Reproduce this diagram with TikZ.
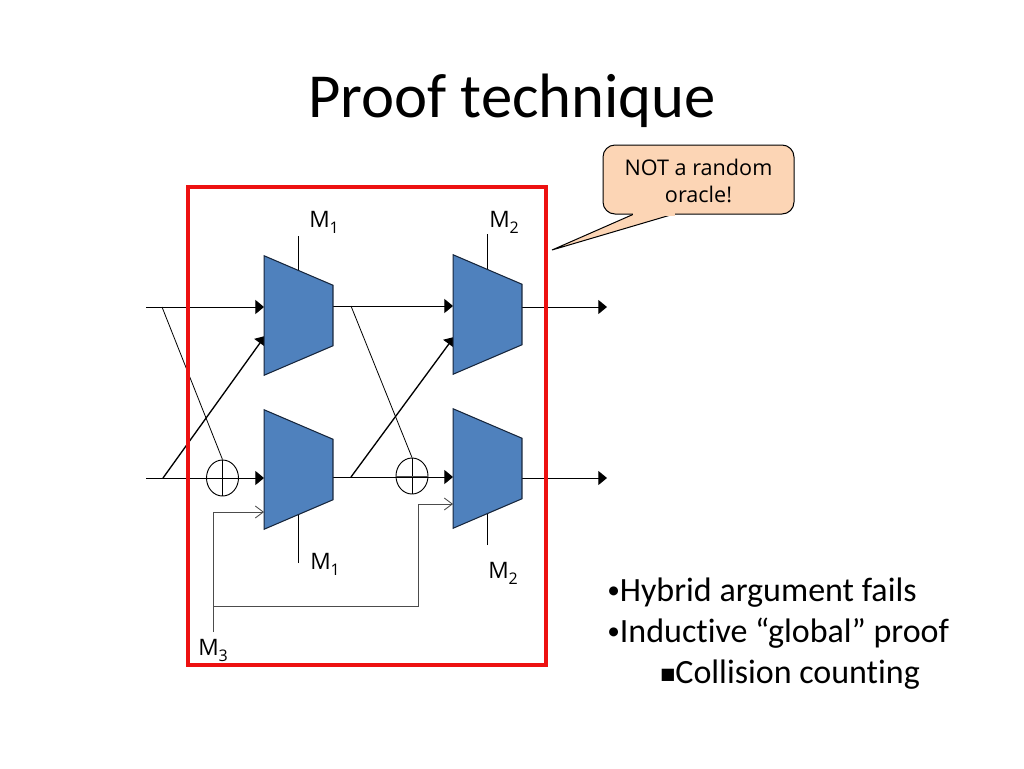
\documentclass[tikz,border=0pt]{standalone}
\usepackage{fontspec}
\setmainfont[Ligatures=NoCommon]{Carlito}
\newfontfamily\labelfont{Open Sans}
\newfontfamily\symbfont{DejaVu Sans}
\usetikzlibrary{calc,positioning,shapes.geometric,arrows.meta}

\definecolor{muxblue}{HTML}{4F81BD}
\definecolor{muxedge}{HTML}{17263C}
\definecolor{framered}{HTML}{ED1111}
\definecolor{calloutfill}{HTML}{FCD5B5}

\tikzset{
    muxbox/.style={rectangle, inner sep=0pt, minimum width=51.3pt, minimum height=89.25pt},
    muxfill/.style={draw=muxedge, fill=muxblue, line width=0.8pt, line join=miter},
    xorgate/.style={ellipse, draw, line width=0.7pt, inner sep=0pt, minimum width=24pt, minimum height=27pt},
    wire/.style={line width=0.75pt},
    thinwire/.style={line width=0.6pt},
    feed/.style={line width=0.65pt, draw=black!70},
    solidtip/.style={-{Triangle[length=6.5pt,width=10.5pt]}},
    opentip/.style={-{Straight Barb[length=6pt,width=9pt]}},
    muxlabel/.style={font=\labelfont\fontsize{17}{19}\selectfont, inner sep=0pt},
    itemtext/.style={anchor=base west, inner sep=0pt, font=\fontsize{25.5}{28}\selectfont}
}

% Draws the sloped outline inside a named box
\newcommand{\muxshape}[1]{
    \draw[muxfill] (#1.north west) -- ($(#1.north east)+(0,29.5)$) -- ($(#1.south east)+(0,-29.5)$)
        -- (#1.south west) -- cycle;
}
% Index set low and small beside a label
\newcommand{\lowidx}[1]{\raisebox{-4.5pt}{\fontsize{12}{13}\selectfont #1}}

\begin{document}
\begin{tikzpicture}[x=0.75pt, y=-0.75pt]

    \useasboundingbox (0, 0) rectangle (1024, 768);

    % Slide title and the list on the right
    \node (title) at (512, 117) [anchor=base, inner sep=0pt, font=\fontsize{47}{50}\selectfont] {Proof technique};
    \node (itemA) at (607, 601) [itemtext] {{\fontsize{19}{20}\selectfont\raisebox{2pt}{•}}Hybrid argument fails};
    \node (itemB) at (607, 642) [itemtext] {{\fontsize{19}{20}\selectfont\raisebox{2pt}{•}}Inductive “global” proof};
    \node (itemC) at (660, 683) [itemtext] {{\symbfont\fontsize{12}{13}\selectfont\raisebox{3pt}{■}}Collision counting};

    % Free ends and branch points of the wires
    \coordinate (inA) at (146, 307);
    \coordinate (inB) at (146, 478);
    \coordinate (forkA) at (162, 307);
    \coordinate (forkB) at (163, 478);
    \coordinate (forkC) at (351, 306);
    \coordinate (forkD) at (351, 477);
    \coordinate (portA) at (265, 336);
    \coordinate (portB) at (454, 337);
    \coordinate (outA) at (607, 307);
    \coordinate (outB) at (607, 478);
    \coordinate (stemA) at (298.5, 236);
    \coordinate (stemB) at (298.5, 563);
    \coordinate (stemC) at (487.5, 234);
    \coordinate (stemD) at (487.5, 545);
    \coordinate (tapA) at (213, 632);
    \coordinate (tapB) at (213, 606);
    \coordinate (bendA) at (213, 512);
    \coordinate (bendB) at (418, 606);
    \coordinate (bendC) at (418, 504);
    \coordinate (portC) at (264, 512);
    \coordinate (portD) at (453, 504);

    \node (muxA) at (298.5, 315.5) [muxbox] {};
    \node (muxB) at (298.5, 469.5) [muxbox] {};
    \node (muxC) at (487.5, 314.5) [muxbox] {};
    \node (muxD) at (487.5, 468.5) [muxbox] {};
    \node (xorA) at (222.5, 478) [xorgate] {};
    \node (xorB) at (412, 476) [xorgate] {};

    % Wires with filled tips
    \begin{scope}[wire, solidtip]
        \draw (inA) -- (inA -| muxA.west);
        \draw (inB) -- (inB -| muxB.west);
        \draw[line width=1pt] (forkB) -- (portA);
        \draw (muxA.east |- forkC) -- (forkC -| muxC.west);
        \draw (muxB.east |- forkD) -- (forkD -| muxD.west);
        \draw[line width=1pt] (forkD) -- (portB);
        \draw (muxC.east |- outA) -- (outA);
        \draw (muxD.east |- outB) -- (outB);
    \end{scope}

    % Thin lines into the two gates, and their crosses
    \begin{scope}[thinwire]
        \draw (forkA) -- (xorA.north);
        \draw (forkC) -- (xorB.north);
        \draw (xorA.north) -- (xorA.south);
        \draw (xorB.north) -- (xorB.south);
        \draw (stemA) -- (muxA.center);
        \draw (stemB) -- (muxB.center);
        \draw (stemC) -- (muxC.center);
        \draw (stemD) -- (muxD.center);
    \end{scope}
    \draw[feed] (xorB.west) -- (xorB.east);

    % Lines from the third input
    \begin{scope}[feed]
        \draw (tapA) -- (bendA) -- (portC) [opentip];
        \draw (tapB) -- (bendB) -- (bendC) -- (portD) [opentip];
    \end{scope}

    \muxshape{muxA}
    \muxshape{muxB}
    \muxshape{muxC}
    \muxshape{muxD}

    \node (labelA) at (309, 227) [anchor=base west, muxlabel] {M\lowidx{1}};
    \node (labelB) at (489, 227) [anchor=base west, muxlabel] {M\lowidx{2}};
    \node (labelC) at (310, 569) [anchor=base west, muxlabel] {M\lowidx{1}};
    \node (labelD) at (488, 578) [anchor=base west, muxlabel] {M\lowidx{2}};
    \node (labelE) at (198, 655) [anchor=base west, muxlabel] {M\lowidx{3}};

    % Frame round the construction
    \draw[framered, line width=2.4pt] (188, 187) rectangle (546, 665);

    % Speech balloon, its tip stops short of the frame
    \coordinate (balloonTip) at (552, 250);
    \draw[fill=calloutfill, line width=0.75pt, rounded corners=9pt] (603, 145) -- (794, 145) -- (794, 214)
        -- (603, 214) -- cycle;
    \draw[fill=calloutfill, line width=0.75pt, line join=miter] (634, 214) -- (balloonTip) -- (674, 214);
    \fill[calloutfill] (633, 213) rectangle (675, 215.5);
    \node (balloonText) at (698.5, 181) [align=center, inner sep=0pt, font=\labelfont\fontsize{16.2}{20.5}\selectfont] {NOT a random\\oracle!};

\end{tikzpicture}
\end{document}
